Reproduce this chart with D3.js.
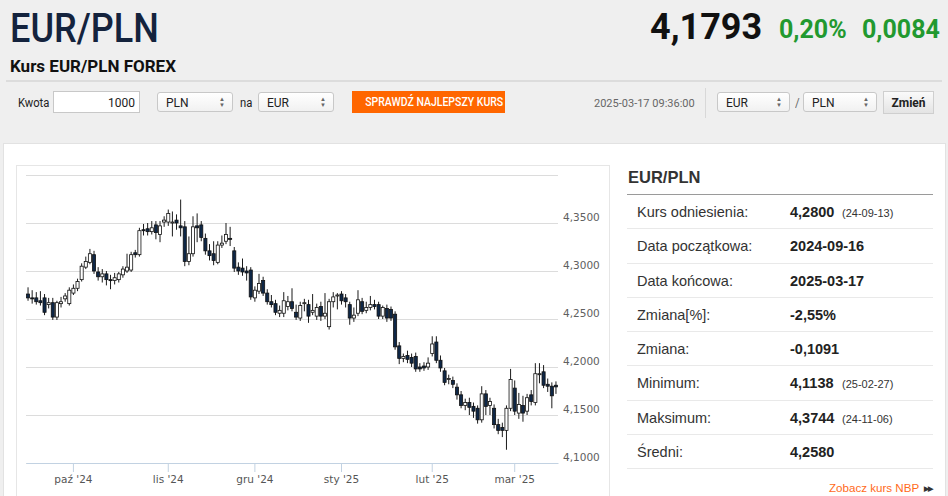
<!DOCTYPE html>
<html lang="pl">
<head>
<meta charset="UTF-8">
<title>Kurs EUR/PLN FOREX</title>
<script src="https://cdn.jsdelivr.net/npm/d3@7"></script>
<style>
body {margin:0; width:948px; height:496px; overflow:hidden; background:#efefef; font-family:"Liberation Sans", Arial, sans-serif; color:#222; position:relative}
.abs {position:absolute; white-space:nowrap}
#pair {left:10px; top:4px; font-family:Roboto, sans-serif; font-weight:500; font-size:41px; color:#14233d; transform:scaleX(.88); transform-origin:left top}
#subtitle {left:10px; top:56px; font-family:Roboto, sans-serif; font-weight:bold; font-size:17px; color:#111}
#last {left:650px; top:6px; font-family:Roboto, sans-serif; font-weight:bold; font-size:36px; color:#111}
.chg {font-family:Roboto, sans-serif; font-weight:bold; font-size:25px; color:#22992f; top:15px}
#sep {left:6px; top:80px; width:936px; height:2px; background:#dcdcdc}
.lbl {font-family:Roboto, sans-serif; font-size:12.5px; color:#222; transform:scaleX(.9); transform-origin:left top}
.box {position:absolute; height:20px; border:1px solid #c8c8c8; border-radius:3px; background:linear-gradient(#fff,#f1f1f1); font-family:Roboto, sans-serif; font-size:12px; line-height:20px; box-sizing:border-box; padding-left:8px}
.box .ar {position:absolute; right:7px; top:3px; font-size:6px; line-height:6px; color:#666}
#btn {left:352px; top:91px; width:153px; height:22px; background:#ff6600; color:#fff; font-family:Roboto, sans-serif; font-weight:500; font-size:12.5px; line-height:22px; text-align:center}
#btn span {display:inline-block; transform:scaleX(.84)}
#stamp {left:594px; top:97px; font-family:Roboto, sans-serif; font-size:11px; color:#666}
#vsep {left:705px; top:88px; width:1px; height:30px; background:#d8d8d8}
#zmien {left:883px; top:91px; width:51px; height:23px; border:1px solid #cfcfcf; background:linear-gradient(#fafafa,#e4e4e4); font-family:Roboto, sans-serif; font-weight:bold; font-size:12px; line-height:22px; text-align:center; box-sizing:border-box}
#panel {left:3px; top:143px; width:941px; height:360px; background:#fff; border:1px solid #e2e2e2}
#chartbox {left:16px; top:165px; width:594px; height:340px; border:1px solid #e6e6e6; box-sizing:border-box; background:#fff}
#chart {position:absolute; left:16px; top:165px}
#side-title {left:628px; top:168px; font-weight:bold; font-size:16.5px; color:#333}
#stats {position:absolute; left:627px; top:194px; width:306px; border-top:1px solid #9a9a9a}
.row {position:relative; height:33.25px; border-bottom:1px solid #e9e9e9; font-size:14.5px; color:#333}
.row .k {position:absolute; left:10px; top:9px}
.row .v {position:absolute; left:163px; top:9px; font-weight:bold; color:#222}
.row .d {position:absolute; left:215px; top:12px; font-size:11px; color:#333}
#nbp {left:829px; top:481px; font-size:11.6px; color:#ff6a1a}
#nbp b {color:#333; font-size:7px; letter-spacing:-1px; margin-left:5px; vertical-align:1px}
</style>
</head>
<body>

<!-- naglowek -->
<div id="pair" class="abs">EUR/PLN</div>
<div id="last" class="abs">4,1793</div>
<div class="abs chg" style="left:779px">0,20%</div>
<div class="abs chg" style="left:862px">0,0084</div>
<div id="subtitle" class="abs">Kurs EUR/PLN FOREX</div>
<div id="sep" class="abs"></div>

<!-- kalkulator -->
<div class="abs lbl" style="left:18px;top:95px">Kwota</div>
<div class="box" style="left:53px;top:91px;width:87px;height:22px;border-radius:0;background:#fff;text-align:right;padding-right:4px;line-height:22px">1000</div>
<div class="box" style="left:157px;top:92px;width:76px">PLN<span class="ar">▲<br>▼</span></div>
<div class="abs lbl" style="left:240px;top:95px">na</div>
<div class="box" style="left:258px;top:92px;width:76px">EUR<span class="ar">▲<br>▼</span></div>
<div id="btn" class="abs"><span>SPRAWDŹ NAJLEPSZY KURS</span></div>
<div id="stamp" class="abs">2025-03-17 09:36:00</div>
<div id="vsep" class="abs"></div>
<div class="box" style="left:717px;top:92px;width:73px">EUR<span class="ar">▲<br>▼</span></div>
<div class="abs lbl" style="left:795px;top:95px;color:#666">/</div>
<div class="box" style="left:803px;top:92px;width:74px">PLN<span class="ar">▲<br>▼</span></div>
<div id="zmien" class="abs">Zmień</div>

<!-- panel -->
<div id="panel" class="abs"></div>
<div id="chartbox" class="abs"></div>
<div id="chart"></div>
<div id="side-title" class="abs">EUR/PLN</div>
<div id="stats"></div>
<div id="nbp" class="abs">Zobacz kurs NBP<b>▶▶</b></div>

<script>
// notowania dzienne EUR/PLN, od 2024-09-16 do 2025-03-17
var firstDay = "2024-09-16", lastDay = "2025-03-17"
var holidays = ["2024-12-25", "2025-01-01"]

var open = [4.276,4.272,4.272,4.269,4.272,4.265,4.267,4.252,4.266,4.271,
  4.266,4.277,4.282,4.291,4.304,4.309,4.317,4.299,4.294,4.297,
  4.291,4.290,4.291,4.296,4.300,4.301,4.319,4.317,4.343,4.344,
  4.341,4.348,4.338,4.351,4.351,4.350,4.353,4.347,4.346,4.310,
  4.318,4.347,4.348,4.334,4.321,4.318,4.309,4.327,4.331,4.334,
  4.321,4.304,4.303,4.300,4.301,4.272,4.279,4.290,4.277,4.268,
  4.266,4.256,4.256,4.263,4.268,4.257,4.251,4.266,4.265,4.257,
  4.253,4.263,4.253,4.242,4.268,4.274,4.276,4.272,4.265,4.251,
  4.256,4.268,4.259,4.262,4.265,4.265,4.253,4.261,4.260,4.255,
  4.222,4.209,4.212,4.210,4.211,4.200,4.201,4.200,4.214,4.226,
  4.207,4.196,4.187,4.186,4.179,4.171,4.160,4.163,4.159,4.157,
  4.145,4.172,4.160,4.157,4.140,4.137,4.134,4.157,4.178,4.152,
  4.160,4.154,4.171,4.163,4.192,4.195,4.182,4.180,4.181]

var high = [4.283,4.280,4.278,4.279,4.276,4.272,4.272,4.269,4.273,4.277,
  4.283,4.286,4.292,4.308,4.315,4.323,4.321,4.304,4.302,4.300,
  4.296,4.298,4.299,4.305,4.318,4.320,4.322,4.345,4.349,4.350,
  4.352,4.352,4.352,4.357,4.364,4.362,4.359,4.3744,4.352,4.336,
  4.357,4.360,4.352,4.339,4.328,4.331,4.331,4.337,4.350,4.346,
  4.325,4.309,4.313,4.305,4.304,4.284,4.297,4.294,4.281,4.275,
  4.270,4.264,4.278,4.274,4.282,4.265,4.268,4.271,4.270,4.276,
  4.266,4.268,4.277,4.271,4.278,4.277,4.279,4.276,4.268,4.262,
  4.280,4.272,4.268,4.274,4.270,4.268,4.264,4.265,4.263,4.258,
  4.226,4.214,4.217,4.214,4.215,4.204,4.205,4.210,4.232,4.232,
  4.212,4.199,4.192,4.190,4.183,4.175,4.167,4.168,4.163,4.160,
  4.180,4.176,4.168,4.161,4.146,4.142,4.160,4.198,4.186,4.173,
  4.170,4.172,4.176,4.204,4.204,4.202,4.188,4.184,4.185]

var low = [4.269,4.266,4.265,4.264,4.254,4.261,4.249,4.249,4.262,4.268,
  4.264,4.275,4.279,4.289,4.302,4.307,4.297,4.290,4.288,4.285,
  4.281,4.286,4.288,4.293,4.298,4.299,4.314,4.315,4.337,4.337,
  4.338,4.333,4.330,4.346,4.347,4.336,4.343,4.336,4.305,4.306,
  4.315,4.330,4.331,4.317,4.311,4.306,4.307,4.324,4.328,4.326,
  4.299,4.296,4.295,4.290,4.270,4.268,4.276,4.274,4.265,4.262,
  4.254,4.252,4.252,4.259,4.258,4.249,4.248,4.258,4.246,4.254,
  4.249,4.248,4.250,4.239,4.262,4.260,4.265,4.262,4.244,4.247,
  4.253,4.255,4.256,4.259,4.260,4.250,4.250,4.247,4.248,4.218,
  4.203,4.205,4.204,4.200,4.195,4.195,4.196,4.197,4.211,4.204,
  4.195,4.181,4.182,4.178,4.166,4.157,4.155,4.150,4.147,4.141,
  4.142,4.150,4.150,4.136,4.130,4.127,4.1138,4.154,4.150,4.146,
  4.143,4.150,4.160,4.160,4.183,4.178,4.174,4.157,4.172]

var close = [4.272,4.271,4.268,4.267,4.257,4.267,4.252,4.267,4.268,4.274,
  4.280,4.282,4.289,4.305,4.310,4.318,4.300,4.294,4.297,4.291,
  4.290,4.293,4.297,4.302,4.304,4.317,4.317,4.342,4.342,4.341,
  4.345,4.340,4.347,4.353,4.360,4.351,4.350,4.345,4.310,4.318,
  4.346,4.345,4.335,4.321,4.316,4.311,4.327,4.329,4.338,4.333,
  4.303,4.300,4.299,4.298,4.273,4.280,4.287,4.277,4.268,4.265,
  4.257,4.259,4.269,4.268,4.261,4.252,4.264,4.267,4.253,4.259,
  4.262,4.253,4.256,4.268,4.273,4.275,4.269,4.268,4.251,4.254,
  4.270,4.258,4.262,4.265,4.263,4.253,4.262,4.251,4.251,4.221,
  4.209,4.211,4.208,4.204,4.198,4.198,4.199,4.204,4.224,4.207,
  4.199,4.184,4.188,4.182,4.171,4.160,4.163,4.158,4.154,4.145,
  4.172,4.159,4.164,4.140,4.134,4.134,4.157,4.187,4.154,4.161,
  4.152,4.168,4.164,4.193,4.193,4.181,4.180,4.170,4.1793]

var yTicks = [4.10, 4.15, 4.20, 4.25, 4.30, 4.35]
var monthStarts = ["2024-10-01", "2024-11-01", "2024-12-02", "2025-01-02", "2025-02-03", "2025-03-03"]
var monthLabels = ["paź '24", "lis '24", "gru '24", "sty '25", "lut '25", "mar '25"]

var statLabels = ["Kurs odniesienia:", "Data początkowa:", "Data końcowa:", "Zmiana[%]:", "Zmiana:", "Minimum:", "Maksimum:", "Średni:"]
var statValues = ["4,2800", "2024-09-16", "2025-03-17", "-2,55%", "-0,1091", "4,1138", "4,3744", "4,2580"]
var statDates = ["(24-09-13)", "", "", "", "", "(25-02-27)", "(24-11-06)", ""]

// tabela po prawej
var rows = d3.select("#stats").selectAll(".row")
  .data(statLabels)
  .enter().append("div").attr("class", "row")
rows.append("span").attr("class", "k").text(function(d){ return d })
rows.append("span").attr("class", "v").text(function(d, i){ return statValues[i] })
rows.append("span").attr("class", "d").text(function(d, i){ return statDates[i] })

// dni sesyjne (bez weekendow i swiat)
var fmt = d3.utcFormat("%Y-%m-%d")
var days = d3.utcDay.range(new Date(firstDay), d3.utcDay.offset(new Date(lastDay), 1))
  .filter(function(d){ return d.getUTCDay() != 0 && d.getUTCDay() != 6 && holidays.indexOf(fmt(d)) < 0 })
  .map(fmt)

var data = days.map(function(d, i){
  return {date: d, o: open[i], h: high[i], l: low[i], c: close[i]}
})

var margin = {top: 10, right: 52, bottom: 33, left: 10},
    width = 594 - margin.left - margin.right,
    height = 331 - margin.top - margin.bottom;

var svg = d3.select("#chart")
  .append("svg")
    .attr("width", width + margin.left + margin.right)
    .attr("height", height + margin.top + margin.bottom)
  .append("g")
    .attr("transform", "translate(" + margin.left + "," + margin.top + ")");

var x = d3.scaleBand()
  .domain(days)
  .range([0, width])
  .paddingInner(0.25)
  .paddingOuter(0.12)

var y = d3.scaleLinear()
  .domain([4.10, 4.40])
  .range([height, 0])

// siatka
svg.append("g")
  .call(d3.axisLeft(y).tickValues(yTicks.concat([4.40])).tickSize(-width).tickFormat(""))
  .call(function(g){ g.select(".domain").remove() })
  .selectAll("line").attr("stroke", "#dcdcdc")

// os Y po prawej
var yAxis = svg.append("g")
  .attr("transform", "translate(" + (width + 2) + ",0)")
  .call(d3.axisRight(y).tickValues(yTicks).tickSize(0)
    .tickFormat(function(d){ return d.toFixed(4).replace(".", ",") }))
yAxis.select(".domain").remove()
yAxis.selectAll("text")
  .attr("dy", "-0.2em")
  .style("font-family", "DejaVu Sans, sans-serif")
  .style("font-size", "10.5px")
  .attr("fill", "#606060")

// os X
var xAxis = svg.append("g")
  .attr("transform", "translate(0," + height + ")")
  .call(d3.axisBottom(x).tickValues(monthStarts).tickSize(9).tickSizeOuter(0).tickPadding(4)
    .tickFormat(function(d){ return monthLabels[monthStarts.indexOf(d)] }))
xAxis.select(".domain").attr("stroke", "#c2d2e2")
xAxis.selectAll("line").attr("stroke", "#c2d2e2")
xAxis.selectAll("text")
  .style("font-family", "DejaVu Sans, sans-serif")
  .style("font-size", "10.5px")
  .attr("fill", "#555")

// swiece
var candle = svg.append("g").selectAll("g")
  .data(data)
  .enter().append("g")

candle.append("line")
  .attr("x1", function(d){ return x(d.date) + x.bandwidth() / 2 })
  .attr("x2", function(d){ return x(d.date) + x.bandwidth() / 2 })
  .attr("y1", function(d){ return y(d.h) })
  .attr("y2", function(d){ return y(d.l) })
  .attr("stroke", "#1b1b1b")
  .attr("stroke-width", 1)

candle.append("rect")
  .attr("x", function(d){ return x(d.date) })
  .attr("y", function(d){ return y(Math.max(d.o, d.c)) })
  .attr("width", x.bandwidth())
  .attr("height", function(d){ return Math.max(1, Math.abs(y(d.o) - y(d.c))) })
  .attr("fill", function(d){ return d.c < d.o ? "#0e2747" : "#ffffff" })
  .attr("stroke", "#111")
  .attr("stroke-width", 0.8)
</script>

</body>
</html>
